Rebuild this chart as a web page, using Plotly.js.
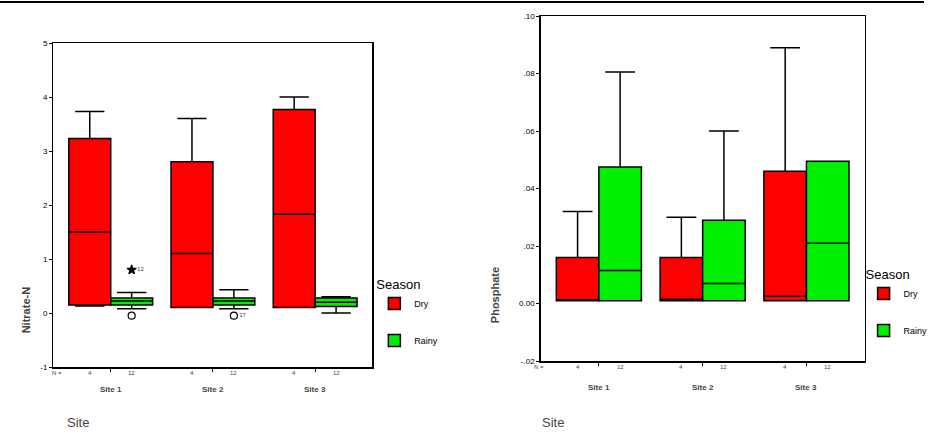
<!DOCTYPE html>
<html><head><meta charset="utf-8">
<script src="https://cdn.plot.ly/plotly-3.0.1.min.js"></script>
<style>body{margin:0;background:#fff}#c{width:933px;height:439px}</style>
</head><body><div id="c"></div>
<script>
const sites = ["Site 1", "Site 2", "Site 3"];
const nDry = ["4", "4", "4"];
const nRainy = ["12", "12", "12"];
// Nitrate-N
const nitDry = {lower:[0.13,0.10,0.10], q1:[0.15,0.10,0.10], med:[1.50,1.10,1.83], q3:[3.23,2.80,3.77], upper:[3.73,3.60,4.00]};
const nitRainy = {lower:[0.08,0.08,0.00], q1:[0.15,0.15,0.12], med:[0.22,0.22,0.20], q3:[0.28,0.28,0.28], upper:[0.38,0.43,0.30]};
const nitOutSite = [0, 0, 1];
const nitOutVal = [0.80, -0.05, -0.05];
const nitOutSym = ["star", "circle-open", "circle-open"];
const nitOutLbl = ["12", "", "17"];
// Phosphate
const phDry = {lower:[0.001,0.001,0.001], q1:[0.001,0.001,0.001], med:[0.001,0.0015,0.0025], q3:[0.016,0.016,0.046], upper:[0.032,0.030,0.089]};
const phRainy = {lower:[0.001,0.001,0.001], q1:[0.001,0.001,0.001], med:[0.0115,0.007,0.021], q3:[0.0475,0.029,0.0495], upper:[0.0805,0.060,0.0495]};

const RED = "#ff0000", GREEN = "#00ee00";
function box(s, name, color, xa, ya, leg, ag) {
  return {type:"box", x:sites, q1:s.q1, median:s.med, q3:s.q3, lowerfence:s.lower, upperfence:s.upper,
    name:name, fillcolor:color, line:{color:"#000", width:1.5}, whiskerwidth:0.7,
    alignmentgroup:ag, offsetgroup:name, legendgroup:ag+name,
    xaxis:xa, yaxis:ya, legend:leg, showlegend:true, boxpoints:false, hoverinfo:"skip"};
}
const traces = [
  box(nitDry, "Dry", RED, "x", "y", "legend", "L"),
  box(nitRainy, "Rainy", GREEN, "x", "y", "legend", "L"),
  box(phDry, "Dry", RED, "x2", "y2", "legend2", "R"),
  box(phRainy, "Rainy", GREEN, "x2", "y2", "legend2", "R"),
  {type:"scatter", mode:"markers+text", x:nitOutSite.map(i=>i+0.205), y:nitOutVal,
   text:nitOutLbl, textposition:"middle right", textfont:{size:6, family:"Liberation Sans"},
   marker:{symbol:nitOutSym, size:7, color:"#000", line:{color:"#000", width:1.2}},
   xaxis:"x3", yaxis:"y", showlegend:false, hoverinfo:"skip"}
];
const tf = {family:"Liberation Sans, Arial", size:8, color:"#000"};
const axBase = {showline:true, mirror:true, linecolor:"#000", linewidth:1.5, showgrid:false, zeroline:false, ticks:"outside", ticklen:3, tickcolor:"#000", tickfont:tf};
const ann = [];
function xlabels(xa, yPix, nyPix, nxPix) {
  ann.push({xref:"paper", yref:"paper", x:nxPix/933, y:1-nyPix/439, text:"N =", showarrow:false, font:{size:6, family:"Liberation Sans"}});
  sites.forEach((s,i)=>{
    ann.push({xref:xa, yref:"paper", x:i, y:1-yPix/439, text:"<b>"+s+"</b>", showarrow:false, font:{size:8, family:"Liberation Sans"}});
    ann.push({xref:xa, yref:"paper", x:i-0.205, y:1-nyPix/439, text:nDry[i], showarrow:false, font:{size:6, family:"Liberation Sans"}});
    ann.push({xref:xa, yref:"paper", x:i+0.205, y:1-nyPix/439, text:nRainy[i], showarrow:false, font:{size:6, family:"Liberation Sans"}});
  });
}
xlabels("x", 396, 378, 50);
xlabels("x2", 394, 372, 544);
ann.push({xref:"paper", yref:"paper", x:18/933, y:1-335/439, text:"<b>Nitrate-N</b>", textangle:-90, showarrow:false, font:{size:11, family:"Liberation Sans"}});
ann.push({xref:"paper", yref:"paper", x:500/933, y:1-325/439, text:"<b>Phosphate</b>", textangle:-90, showarrow:false, font:{size:11, family:"Liberation Sans"}});
ann.push({xref:"paper", yref:"paper", x:66/933, y:1-432/439, text:"Site", showarrow:false, font:{size:13, family:"Liberation Sans"}});
ann.push({xref:"paper", yref:"paper", x:558/933, y:1-432/439, text:"Site", showarrow:false, font:{size:13, family:"Liberation Sans"}});

const legBase = {bgcolor:"rgba(0,0,0,0)", font:{size:9, family:"Liberation Sans", color:"#000"}, title:{text:"Season", font:{size:13, family:"Liberation Sans", color:"#000"}}, traceorder:"grouped", tracegroupgap:18, itemwidth:30, yanchor:"top", xanchor:"left"};
const layout = {
  width:933, height:439, margin:{l:0,r:0,t:0,b:0}, paper_bgcolor:"#fff", plot_bgcolor:"#fff",
  boxmode:"group", boxgap:0.18, boxgroupgap:0,
  xaxis:Object.assign({}, axBase, {domain:[54/933, 376/933], type:"category", range:[-0.56,2.56], showticklabels:false, anchor:"y"}),
  xaxis3:{domain:[54/933, 376/933], range:[-0.56,2.56], overlaying:"x", visible:false, anchor:"y"},
  yaxis:Object.assign({}, axBase, {domain:[1-367/439, 1-43/439], range:[-1,5], tickvals:[-1,0,1,2,3,4,5], ticktext:["-1","0","1","2","3","4","5"], anchor:"x"}),
  xaxis2:Object.assign({}, axBase, {domain:[546/933, 873/933], type:"category", range:[-0.56,2.56], showticklabels:false, anchor:"y2"}),
  yaxis2:Object.assign({}, axBase, {domain:[1-361/439, 1-16/439], range:[-0.02,0.10], tickvals:[-0.02,0,0.02,0.04,0.06,0.08,0.10], ticktext:["-.02","0.00",".02",".04",".06",".08",".10"], anchor:"x2"}),
  legend:Object.assign({}, legBase, {x:378/933, y:1-272/439}),
  legend2:Object.assign({}, legBase, {x:872/933, y:1-262/439}),
  annotations:ann,
  shapes:[{type:"line", xref:"paper", yref:"paper", x0:0, x1:1, y0:1-2/439, y1:1-2/439, line:{color:"#000", width:2}}]
};
Plotly.newPlot("c", traces, layout, {staticPlot:true});
</script></body></html>
